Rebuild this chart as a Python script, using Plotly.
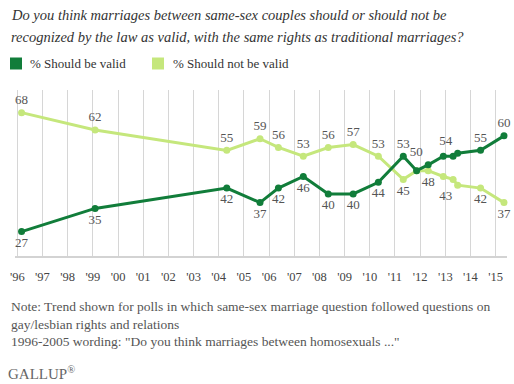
import plotly.graph_objects as go

# ---- data ----
poll_dates = [1996.17, 1999.09, 2004.32, 2005.64, 2006.37, 2007.36, 2008.35, 2009.34,
              2010.34, 2011.33, 2011.86, 2012.32, 2012.92, 2013.31, 2013.49, 2014.40, 2015.33]
should_be_valid = [27, 35, 42, 37, 42, 46, 40, 40, 44, 53, 48, 50, 53, 53, 54, 55, 60]
should_not_be_valid = [68, 62, 55, 59, 56, 53, 56, 57, 53, 45, 48, 48, 46, 45, 43, 42, 37]
valid_labels = ["27", "35", "42", "37", "42", "46", "40", "40", "44", "53", "", "50", "", "", "54", "55", "60"]
valid_pos = ["bottom center"] * 9 + ["top center", "top center", "top left", "top center",
                                     "top center", "top left", "top center", "top center"]
notvalid_labels = ["68", "62", "55", "59", "56", "53", "56", "57", "53", "45", "", "48", "", "", "43", "42", "37"]
notvalid_pos = ["top center"] * 9 + ["bottom center", "bottom center", "bottom center", "bottom center",
                                     "bottom center", "bottom left", "bottom center", "bottom center"]
tick_years = list(range(1996, 2016))
tick_text = ["'%02d" % (y % 100) for y in tick_years]

DARK = "rgb(17,125,58)"
LIGHT = "rgb(197,231,124)"
SERIF = "Liberation Serif"

W, H = 514, 384
ML, MR, MT, MB = 15, 7, 90, 128
PH = H - MT - MB
PW = W - ML - MR


def px_x(x):
    return (x - ML) / PW


def px_y(y):
    return (H - MB - y) / PH


fig = go.Figure()
fig.add_trace(go.Scatter(
    x=poll_dates, y=should_not_be_valid, mode="lines+markers+text",
    line=dict(color=LIGHT, width=3), marker=dict(color=LIGHT, size=7),
    text=notvalid_labels, textposition=notvalid_pos,
    textfont=dict(family=SERIF, size=13, color="#555"),
    name="% Should not be valid", showlegend=False, cliponaxis=False))
fig.add_trace(go.Scatter(
    x=poll_dates, y=should_be_valid, mode="lines+markers+text",
    line=dict(color=DARK, width=3), marker=dict(color=DARK, size=7),
    text=valid_labels, textposition=valid_pos,
    textfont=dict(family=SERIF, size=13, color="#555"),
    name="% Should be valid", showlegend=False, cliponaxis=False))

annotations = [
    dict(text="Do you think marriages between same-sex couples should or should not be",
         x=px_x(9), y=px_y(15), font=dict(family=SERIF, size=14.5, color="#333", style="italic")),
    dict(text="recognized by the law as valid, with the same rights as traditional marriages?",
         x=px_x(9), y=px_y(36.5), font=dict(family=SERIF, size=14.5, color="#333", style="italic")),
    dict(text="% Should be valid", x=px_x(28), y=px_y(63.5),
         font=dict(family=SERIF, size=13, color="#333")),
    dict(text="% Should not be valid", x=px_x(171), y=px_y(63.5),
         font=dict(family=SERIF, size=13, color="#333")),
    dict(text="Note: Trend shown for polls in which same-sex marriage question followed questions on",
         x=px_x(9), y=px_y(306.5), font=dict(family=SERIF, size=13.5, color="#555")),
    dict(text="gay/lesbian rights and relations",
         x=px_x(9), y=px_y(324.5), font=dict(family=SERIF, size=13.5, color="#555")),
    dict(text="1996-2005 wording: \"Do you think marriages between homosexuals ...\"",
         x=px_x(9), y=px_y(341.5), font=dict(family=SERIF, size=13.5, color="#555")),
    dict(text="GALLUP<sup>®</sup>", x=px_x(6), y=px_y(372.5),
         font=dict(family=SERIF, size=15, color="#666")),
]
for a in annotations:
    a.update(xref="paper", yref="paper", xanchor="left", yanchor="middle", showarrow=False)

shapes = [
    dict(type="rect", xref="paper", yref="paper", x0=px_x(10), x1=px_x(22), y0=px_y(69.5), y1=px_y(57.5),
         fillcolor=DARK, line=dict(width=0)),
    dict(type="rect", xref="paper", yref="paper", x0=px_x(152), x1=px_x(164), y0=px_y(69.5), y1=px_y(57.5),
         fillcolor=LIGHT, line=dict(width=0)),
]

fig.update_layout(
    width=W, height=H, margin=dict(l=ML, r=MR, t=MT, b=MB),
    paper_bgcolor="white", plot_bgcolor="white",
    annotations=annotations, shapes=shapes,
    xaxis=dict(range=[1995.909, 2015.45], tickvals=tick_years, ticktext=tick_text,
               showgrid=True, gridcolor="#d6d6d6", gridwidth=1, zeroline=False,
               showline=True, linecolor="#d3d3d3", linewidth=2,
               ticks="outside", ticklen=8, tickcolor="rgba(0,0,0,0)",
               tickfont=dict(family=SERIF, size=12.5, color="#444")),
    yaxis=dict(range=[18.6, 75.8], showgrid=False, zeroline=False, showticklabels=False,
               fixedrange=True),
)

fig.write_html("out.html", config={"displayModeBar": False},
               post_script="document.body.style.margin='0px';document.body.style.overflow='hidden';")
